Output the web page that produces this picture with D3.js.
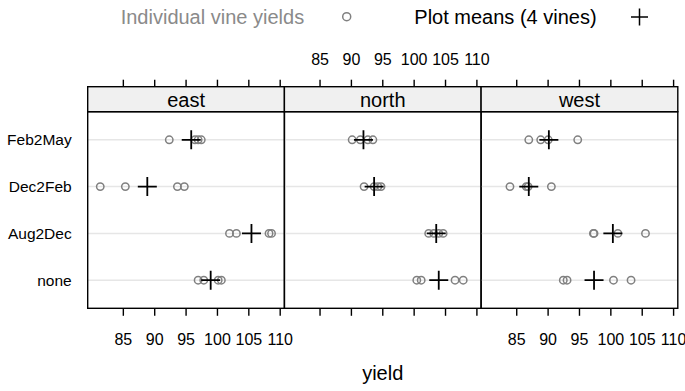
<!DOCTYPE html>
<html>
<head>
<meta charset="utf-8">
<script src="https://cdn.jsdelivr.net/npm/d3@7/dist/d3.min.js"></script>
<style>
  html, body { margin: 0; padding: 0; background: #fff; }
  svg { display: block; font-family: "Liberation Sans", Arial, Helvetica, sans-serif; }
</style>
</head>
<body>
<div id="chart"></div>
<script>
// ─── Data ──────────────────────────────────────────────────────
const panels = ['east', 'north', 'west'];
// bottom → top, as drawn
const treatments = ['none', 'Aug2Dec', 'Dec2Feb', 'Feb2May'];
const xTicks = [85, 90, 95, 100, 105, 110];

// individual vine yields, one row per treatment (same order as `treatments`)
const eastVines = [
  [97.0, 97.9, 100.2, 100.7],
  [102.0, 103.1, 108.3, 108.7],
  [81.4, 85.4, 93.7, 94.8],
  [92.4, 96.5, 97.0, 97.5]
];
const northVines = [
  [100.5, 101.2, 106.6, 107.9],
  [102.4, 103.2, 104.0, 104.7],
  [92.1, 93.7, 94.3, 94.8],
  [90.2, 91.5, 92.7, 93.5]
];
const westVines = [
  [92.5, 93.1, 100.5, 103.3],
  [97.3, 97.4, 101.2, 105.6],
  [84.0, 86.6, 86.9, 90.6],
  [87.0, 88.9, 90.1, 94.8]
];
// plot means (4 vines)
const eastMeans = [99.0, 105.5, 88.9, 95.9];
const northMeans = [104.0, 103.6, 93.7, 92.0];
const westMeans = [97.4, 100.4, 87.0, 90.2];

const vinesByPanel = [eastVines, northVines, westVines];
const meansByPanel = [eastMeans, northMeans, westMeans];

// ─── Layout ────────────────────────────────────────────────────
const W = 685, H = 391;
const panelLeft = 87.7, panelW = 196.7;
const stripTop = 86.7, stripBot = 111.7, panelBot = 308.3;
const GREY = '#808080';

const svg = d3.select('#chart').append('svg')
  .attr('width', W).attr('height', H);

const y = d3.scaleLinear()
  .domain([0.4, treatments.length + 0.6])
  .range([panelBot, stripBot]);

function xScale(i) {
  const x0 = panelLeft + i * panelW;
  return d3.scaleLinear().domain([79.4, 110.75]).range([x0, x0 + panelW]);
}

// ─── Legend ────────────────────────────────────────────────────
svg.append('text').attr('x', 120.7).attr('y', 24)
  .attr('font-size', 20).attr('fill', '#8a8a8a')
  .text('Individual vine yields');
svg.append('circle').attr('cx', 346.7).attr('cy', 16.7).attr('r', 4)
  .attr('fill', 'none').attr('stroke', GREY).attr('stroke-width', 1.5);
svg.append('text').attr('x', 414.3).attr('y', 24)
  .attr('font-size', 20).attr('fill', '#000')
  .text('Plot means (4 vines)');
svg.append('path')
  .attr('d', 'M631,17H648M639.5,8.5V25.5')
  .attr('stroke', '#000').attr('stroke-width', 1.5).attr('fill', 'none');

// ─── Panels ────────────────────────────────────────────────────
panels.forEach((name, i) => {
  const x = xScale(i);
  const [x0, x1] = x.range();
  const g = svg.append('g');

  // reference lines
  g.selectAll('line.grid')
    .data(treatments)
    .enter().append('line')
    .attr('x1', x0).attr('x2', x1)
    .attr('y1', (d, k) => y(k + 1)).attr('y2', (d, k) => y(k + 1))
    .attr('stroke', '#e6e6e6').attr('stroke-width', 1.5);

  // vines
  const vines = vinesByPanel[i].flatMap((row, k) => row.map(v => ({ v, k })));
  g.selectAll('circle')
    .data(vines)
    .enter().append('circle')
    .attr('cx', d => x(d.v)).attr('cy', d => y(d.k + 1)).attr('r', 3.7)
    .attr('fill', 'none').attr('stroke', GREY).attr('stroke-width', 1.5);

  // means
  g.selectAll('path.mean')
    .data(meansByPanel[i])
    .enter().append('path')
    .attr('d', (m, k) => {
      const cx = x(m), cy = y(k + 1);
      return `M${cx - 9.5},${cy}H${cx + 9.5}M${cx},${cy - 9.5}V${cy + 9.5}`;
    })
    .attr('stroke', '#000').attr('stroke-width', 1.8).attr('fill', 'none');

  // strip
  svg.append('rect')
    .attr('x', x0).attr('y', stripTop).attr('width', panelW).attr('height', stripBot - stripTop)
    .attr('fill', '#f0f0f0').attr('stroke', '#000').attr('stroke-width', 1.4);
  svg.append('text')
    .attr('x', (x0 + x1) / 2).attr('y', 106.7)
    .attr('text-anchor', 'middle').attr('font-size', 20)
    .text(name);

  // panel border
  svg.append('rect')
    .attr('x', x0).attr('y', stripBot).attr('width', panelW).attr('height', panelBot - stripBot)
    .attr('fill', 'none').attr('stroke', '#000').attr('stroke-width', 1.4);

  // top axis (labels only on middle panel)
  const top = svg.append('g').attr('transform', `translate(0,${stripTop})`)
    .call(d3.axisTop(x).tickValues(xTicks).tickSize(7).tickPadding(14.7)
      .tickFormat(i === 1 ? d3.format('d') : ''));
  // bottom axis (labels on outer panels)
  const bot = svg.append('g').attr('transform', `translate(0,${panelBot})`)
    .call(d3.axisBottom(x).tickValues(xTicks).tickSize(7.5).tickPadding(18)
      .tickFormat(i !== 1 ? d3.format('d') : ''));
  [top, bot].forEach(a => {
    a.select('.domain').remove();
    a.selectAll('.tick line').attr('stroke', '#000').attr('stroke-width', 1.4);
    a.selectAll('.tick text').attr('font-size', 16).attr('fill', '#000')
      .attr('font-family', '"Liberation Sans", Arial, sans-serif');
  });
});

// ─── Y labels ──────────────────────────────────────────────────
svg.selectAll('text.ylab')
  .data(treatments)
  .enter().append('text')
  .attr('class', 'ylab')
  .attr('x', 71.7).attr('y', (d, k) => y(k + 1))
  .attr('dy', '0.35em')
  .attr('text-anchor', 'end').attr('font-size', 15.5)
  .text(d => d);

// ─── X label ───────────────────────────────────────────────────
svg.append('text')
  .attr('x', panelLeft + 1.5 * panelW).attr('y', 380)
  .attr('text-anchor', 'middle').attr('font-size', 20)
  .text('yield');
</script>
</body>
</html>
